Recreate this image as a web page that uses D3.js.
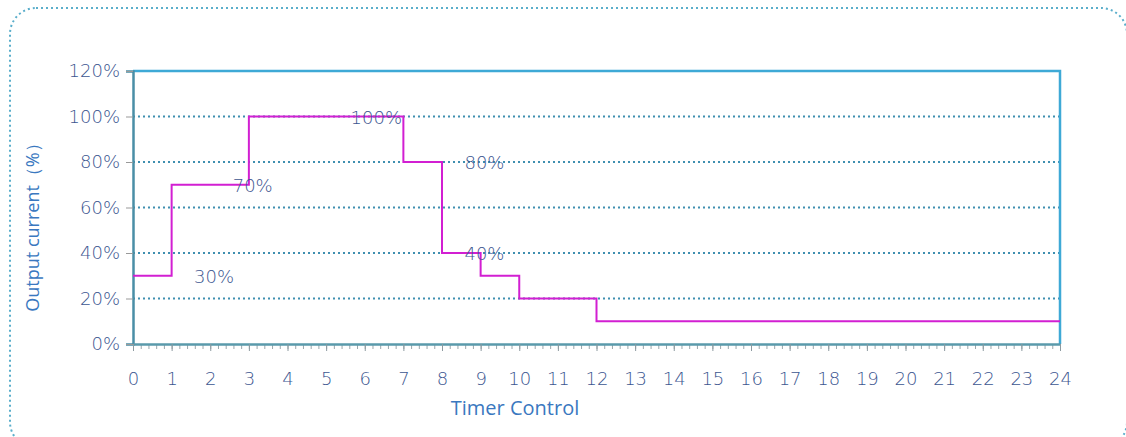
<!DOCTYPE html>
<html>
<head>
<meta charset="utf-8">
<script src="https://cdn.jsdelivr.net/npm/d3@7/dist/d3.min.js"></script>
<style>
  body { margin: 0; background: #fff; }
  svg { display: block; }
</style>
</head>
<body>
<div id="chart"></div>
<script>
// step schedule: level holds from hourStart[i] to hourStart[i+1]
const hourStart = [0, 1, 3, 7, 8, 9, 10, 12, 24];
const levelPct = [30, 70, 100, 80, 40, 30, 20, 10, 10];
const labelText = ["30%", "70%", "100%", "80%", "40%"];
const labelHour = [2.1, 3.1, 6.3, 9.1, 9.1];
const labelPct = [30, 70, 100, 80, 40];
const yTicks = [0, 20, 40, 60, 80, 100, 120];
const xTicks = d3.range(0, 25);

const width = 1126, height = 437;
const svg = d3.select("#chart").append("svg")
    .attr("width", width)
    .attr("height", height);

// outer dotted rounded frame
svg.append("rect")
    .attr("x", 10).attr("y", 8)
    .attr("width", 1117).attr("height", 440)
    .attr("rx", 26)
    .attr("fill", "none")
    .attr("stroke", "#5aaecb")
    .attr("stroke-width", 2)
    .attr("stroke-dasharray", "2,3");

const x = d3.scaleLinear().domain([0, 24]).range([133, 1060]);
const y = d3.scaleLinear().domain([0, 120]).range([344, 71]);

const labelColor = "#3c5690";
const font = "'DejaVu Sans', sans-serif";

// gridlines
svg.append("g")
    .selectAll("line")
    .data(yTicks.filter(d => d > 0 && d < 120))
    .enter().append("line")
    .attr("x1", x(0)).attr("x2", x(24))
    .attr("y1", d => y(d)).attr("y2", d => y(d))
    .attr("stroke", "#3f8fb0")
    .attr("stroke-width", 2)
    .attr("stroke-dasharray", "2,3");

// top and right frame
svg.append("path")
    .attr("d", `M${x(0)},${y(120)}H${x(24)}V${y(0)}`)
    .attr("fill", "none")
    .attr("stroke", "#3ea9d6")
    .attr("stroke-width", 2.5);

// y axis
const yAxis = svg.append("g")
    .attr("transform", `translate(${x(0)},0)`)
    .call(d3.axisLeft(y).tickValues(yTicks).tickFormat(d => d + "%").tickSize(7).tickPadding(6));
yAxis.select(".domain").attr("stroke", "#4a8ea6").attr("stroke-width", 2.5);
yAxis.selectAll(".tick line").attr("stroke", "#999");
yAxis.selectAll("text")
    .attr("fill", labelColor)
    .style("font-family", font)
    .style("font-size", "18px")
    .style("font-weight", "200");

// x axis with minor ticks every 0.2 h
const xMinor = svg.append("g")
    .attr("transform", `translate(0,${y(0)})`)
    .call(d3.axisBottom(x).tickValues(d3.range(0, 24.01, 0.2)).tickSize(5).tickFormat(""));
xMinor.select(".domain").remove();
xMinor.selectAll(".tick line").attr("stroke", "#9aa6ab");

const xAxis = svg.append("g")
    .attr("transform", `translate(0,${y(0)})`)
    .call(d3.axisBottom(x).tickValues(xTicks).tickSize(7).tickPadding(21).tickSizeOuter(0));
xAxis.select(".domain").attr("stroke", "#5a9aab").attr("stroke-width", 2.5);
xAxis.selectAll(".tick line").attr("stroke", "#8c9aa0");
xAxis.selectAll("text")
    .attr("fill", labelColor)
    .style("font-family", font)
    .style("font-size", "18px")
    .style("font-weight", "200");

// step line
const pts = hourStart.map((h, i) => [h, levelPct[i]]);
svg.append("path")
    .datum(pts)
    .attr("d", d3.line().x(d => x(d[0])).y(d => y(d[1])).curve(d3.curveStepAfter))
    .attr("fill", "none")
    .attr("stroke", "#d21fd2")
    .attr("stroke-width", 2);

// value labels
svg.append("g")
    .selectAll("text")
    .data(labelText)
    .enter().append("text")
    .attr("x", (d, i) => x(labelHour[i]))
    .attr("y", (d, i) => y(labelPct[i]) + 7)
    .attr("text-anchor", "middle")
    .attr("fill", labelColor)
    .style("font-family", font)
    .style("font-size", "18px")
    .style("font-weight", "200")
    .text(d => d);

// axis titles
svg.append("text")
    .attr("x", 515).attr("y", 415)
    .attr("text-anchor", "middle")
    .attr("fill", "#3a78c0")
    .style("font-family", "'Open Sans', sans-serif")
    .style("font-size", "20px")
    .text("Timer Control");

svg.append("text")
    .attr("transform", "translate(39,223) rotate(-90)")
    .attr("text-anchor", "middle")
    .attr("fill", "#3a78c0")
    .style("font-family", "'Open Sans', sans-serif")
    .style("font-size", "18px")
    .text("Output current（%）");
</script>
</body>
</html>
